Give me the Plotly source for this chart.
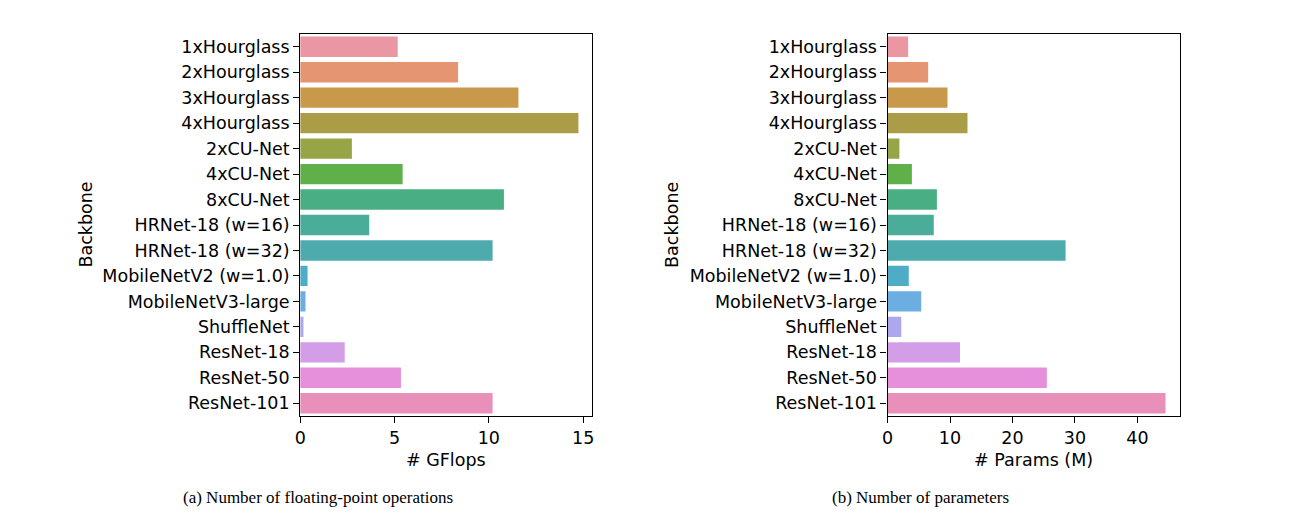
import plotly.graph_objects as go

backbones = ["1xHourglass", "2xHourglass", "3xHourglass", "4xHourglass",
             "2xCU-Net", "4xCU-Net", "8xCU-Net", "HRNet-18 (w=16)", "HRNet-18 (w=32)",
             "MobileNetV2 (w=1.0)", "MobileNetV3-large", "ShuffleNet",
             "ResNet-18", "ResNet-50", "ResNet-101"]
gflops = [5.17, 8.37, 11.57, 14.75, 2.74, 5.43, 10.8, 3.66, 10.2, 0.39, 0.28, 0.17, 2.36, 5.34, 10.2]
params = [3.3, 6.5, 9.6, 12.8, 1.9, 3.9, 7.9, 7.4, 28.5, 3.4, 5.4, 2.2, 11.6, 25.5, 44.5]
colors = ["#EA96A3", "#E59572", "#C8994A", "#AB9C47", "#97A546", "#5FB048", "#4AAE83",
          "#4BAC9A", "#4DABAD", "#4FACC6", "#6DAEE2", "#ADA8ED", "#D39DE8", "#E68FDB", "#E88FBA"]

FONT = "DejaVu Sans"
OFFX, OFFY = 10, 8  # page body margin compensation
W, H = 1295 - 8, 514 - 8


def px(X):
    return (X - OFFX) / W


def py(Y):
    return 1 - (Y - OFFY) / H


fig = go.Figure()
fig.add_trace(go.Bar(y=backbones, x=gflops, orientation="h", marker=dict(color=colors, line=dict(width=0)),
                     width=0.8, xaxis="x", yaxis="y", showlegend=False))
fig.add_trace(go.Bar(y=backbones, x=params, orientation="h", marker=dict(color=colors, line=dict(width=0)),
                     width=0.8, xaxis="x2", yaxis="y2", showlegend=False))

ydom = [py(416), py(34)]
axcommon = dict(showline=True, linecolor="black", linewidth=1.2, mirror=True, ticks="outside",
                ticklen=6, tickwidth=1.2, tickcolor="black", showgrid=False, zeroline=False,
                tickfont=dict(family=FONT, size=17.5, color="black"))
fig.update_layout(
    width=W, height=H, margin=dict(l=0, r=0, t=0, b=0),
    paper_bgcolor="white", plot_bgcolor="white", bargap=0.2,
    xaxis=dict(domain=[px(298), px(592)], range=[0, 15.49], tickvals=[0, 5, 10, 15], anchor="y", **axcommon),
    yaxis=dict(domain=ydom, autorange="reversed", anchor="x", **axcommon),
    xaxis2=dict(domain=[px(889), px(1183)], range=[0, 46.77], tickvals=[0, 10, 20, 30, 40], anchor="y2", **axcommon),
    yaxis2=dict(domain=ydom, autorange="reversed", anchor="x2", **axcommon),
)

ann = [
    dict(text="# GFlops", x=px(445), y=py(460)),
    dict(text="# Params (M)", x=px(1036), y=py(460)),
    dict(text="Backbone", x=px(82), y=py(225), textangle=-90),
    dict(text="Backbone", x=px(672), y=py(225), textangle=-90),
]
for a in ann:
    fig.add_annotation(xref="paper", yref="paper", showarrow=False, xanchor="center", yanchor="middle",
                       font=dict(family=FONT, size=17.5, color="black"), **a)
for t, xc in [("(a) Number of floating-point operations", 316), ("(b) Number of parameters", 922)]:
    fig.add_annotation(text=t, xref="paper", yref="paper", x=px(xc), y=py(497), showarrow=False,
                       xanchor="center", yanchor="middle",
                       font=dict(family="Liberation Serif", size=17, color="black"))

fig.write_html("out.html")
